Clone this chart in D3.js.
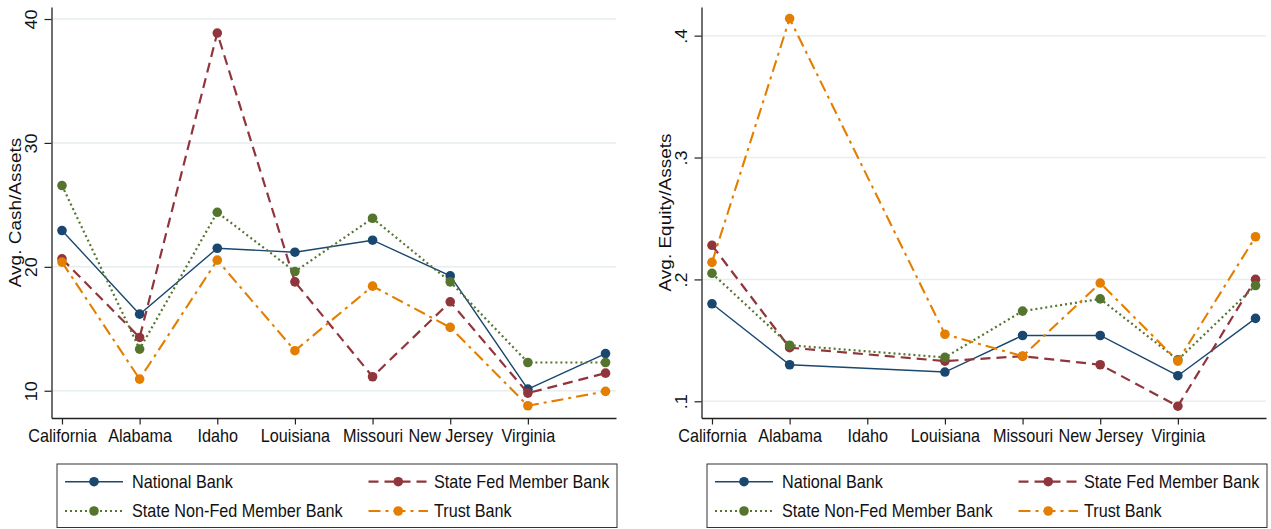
<!DOCTYPE html>
<html>
<head>
<meta charset="utf-8">
<script src="https://cdn.jsdelivr.net/npm/d3@7"></script>
<style>
  html, body { margin: 0; padding: 0; background: #fff; }
  svg { display: block; }
</style>
</head>
<body>
<div id="chart"></div>
<script>
// ============= Data =============
const stateLabels = ["California", "Alabama", "Idaho", "Louisiana", "Missouri", "New Jersey", "Virginia"];
const pointCount = 8; // 8th group has no label on the axis

const seriesNames = ["National Bank", "State Fed Member Bank", "State Non-Fed Member Bank", "Trust Bank"];

// Avg. Cash/Assets
const cashNational = [22.93, 16.18, 21.5, 21.18, 22.15, 19.27, 10.13, 13.0];
const cashStateFed = [20.65, 14.3, 38.87, 18.79, 11.13, 17.18, 9.81, 11.42];
const cashNonFed   = [26.56, 13.36, 24.4, 19.62, 23.92, 18.79, 12.28, 12.28];
const cashTrust    = [20.38, 10.94, 20.54, 13.23, 18.44, 15.11, 8.79, 9.95];
const cashTicks = [10, 20, 30, 40];

// Avg. Equity/Assets (no Idaho observations)
const eqNational = [0.180, 0.130, null, 0.124, 0.154, 0.154, 0.121, 0.168];
const eqStateFed = [0.228, 0.144, null, 0.133, 0.137, 0.130, 0.096, 0.200];
const eqNonFed   = [0.205, 0.146, null, 0.136, 0.174, 0.184, 0.134, 0.195];
const eqTrust    = [0.214, 0.414, null, 0.155, 0.137, 0.197, 0.133, 0.235];
const eqTicks = [0.1, 0.2, 0.3, 0.4];

// ============= Styles =============
const styles = [
    { color: "#1a476f", width: 1.4, dash: null },
    { color: "#90353b", width: 2.2, dash: "10,6" },
    { color: "#55752f", width: 2.2, dash: "2,3" },
    { color: "#e37e00", width: 2.1, dash: "12,5,3,5" }
];

const width = 1271;
const height = 529;
const squeeze = 0.9;            // text in the original is slightly narrowed
const font = "'Liberation Sans', Arial, Helvetica, sans-serif";
const plotTop = 7, plotBottom = 418;
const axisLeftX = 51.5, plotRightX = 616;
const markerR = 4.8;

const svg = d3.select("#chart").append("svg")
    .attr("width", width)
    .attr("height", height);

function drawPanel(ox, seriesValues, yDomain, yTicks, yFormat, title) {
    const g = svg.append("g");

    const x = d3.scaleLinear()
        .domain([-0.135, pointCount - 1 + 0.135])
        .range([ox + axisLeftX, ox + plotRightX]);

    const y = d3.scaleLinear()
        .domain(yDomain)
        .range([plotBottom, plotTop]);

    // gridlines
    g.append("g").selectAll("line")
        .data(yTicks)
        .join("line")
        .attr("x1", ox + axisLeftX)
        .attr("x2", ox + plotRightX)
        .attr("y1", d => y(d))
        .attr("y2", d => y(d))
        .attr("stroke", "#e6eef0")
        .attr("stroke-width", 1.5);

    // y axis
    const yAxis = g.append("g")
        .attr("transform", `translate(${ox + axisLeftX},0)`)
        .call(d3.axisLeft(y).tickValues(yTicks).tickFormat(yFormat).tickSize(7).tickSizeOuter(0));
    yAxis.select(".domain").attr("stroke", "#222").attr("stroke-width", 1.3);
    yAxis.selectAll(".tick line").attr("stroke", "#222").attr("stroke-width", 1.2);
    yAxis.selectAll(".tick text")
        .attr("x", 0).attr("y", 0).attr("dy", 0)
        .attr("text-anchor", "middle")
        .attr("transform", `translate(-15,0) scale(${squeeze},1) rotate(-90)`)
        .style("font-family", font)
        .style("font-size", "18px")
        .attr("fill", "#111");

    // x axis
    const xAxis = g.append("g")
        .attr("transform", `translate(0,${plotBottom})`)
        .call(d3.axisBottom(x)
            .tickValues(d3.range(stateLabels.length))
            .tickFormat(i => stateLabels[i])
            .tickSize(6.5)
            .tickSizeOuter(0));
    xAxis.select(".domain").attr("stroke", "#222").attr("stroke-width", 1.3);
    xAxis.selectAll(".tick line").attr("stroke", "#222").attr("stroke-width", 1.2);
    xAxis.selectAll(".tick text")
        .attr("y", 24).attr("dy", 0)
        .attr("transform", `scale(${squeeze},1)`)
        .style("font-family", font)
        .style("font-size", "18px")
        .attr("fill", "#111");

    // y title
    g.append("text")
        .attr("transform", `translate(${ox + 21},${(plotTop + plotBottom) / 2}) scale(${squeeze},1) rotate(-90)`)
        .attr("text-anchor", "middle")
        .style("font-family", font)
        .style("font-size", "19px")
        .attr("fill", "#111")
        .text(title);

    // series
    const line = d3.line()
        .x(d => x(d.i))
        .y(d => y(d.v));

    seriesValues.forEach((vals, s) => {
        const pts = vals.map((v, i) => ({ i, v })).filter(d => d.v !== null);
        const st = styles[s];
        g.append("path")
            .datum(pts)
            .attr("d", line)
            .attr("fill", "none")
            .attr("stroke", st.color)
            .attr("stroke-width", st.width)
            .attr("stroke-dasharray", st.dash);
        g.append("g").selectAll("circle")
            .data(pts)
            .join("circle")
            .attr("cx", d => x(d.i))
            .attr("cy", d => y(d.v))
            .attr("r", markerR)
            .attr("fill", st.color);
    });

    // legend
    const lx = ox + 57, ly = 464;
    g.append("rect")
        .attr("x", lx).attr("y", ly)
        .attr("width", 560).attr("height", 63.5)
        .attr("fill", "none")
        .attr("stroke", "#333")
        .attr("stroke-width", 1);

    const rowsY = [481.7, 511];
    const cols = [
        { k0: 8, k1: 66, tx: 75 },
        { k0: 311.5, k1: 371, tx: 377 }
    ];
    seriesNames.forEach((name, s) => {
        const c = cols[s % 2];
        const ry = rowsY[Math.floor(s / 2)];
        const st = styles[s];
        g.append("line")
            .attr("x1", lx + c.k0).attr("x2", lx + c.k1)
            .attr("y1", ry).attr("y2", ry)
            .attr("stroke", st.color)
            .attr("stroke-width", st.width)
            .attr("stroke-dasharray", st.dash);
        g.append("circle")
            .attr("cx", lx + (c.k0 + c.k1) / 2)
            .attr("cy", ry)
            .attr("r", markerR)
            .attr("fill", st.color);
        g.append("text")
            .attr("transform", `translate(${lx + c.tx},${ry + 6.3}) scale(${squeeze},1)`)
            .style("font-family", font)
            .style("font-size", "18px")
            .attr("fill", "#111")
            .text(name);
    });
}

drawPanel(0,
    [cashNational, cashStateFed, cashNonFed, cashTrust],
    [7.8, 40.97], cashTicks, d3.format("d"), "Avg. Cash/Assets");

drawPanel(650,
    [eqNational, eqStateFed, eqNonFed, eqTrust],
    [0.0863, 0.4235], eqTicks, d => d3.format(".1f")(d).replace(/^0/, ""), "Avg. Equity/Assets");
</script>
</body>
</html>
